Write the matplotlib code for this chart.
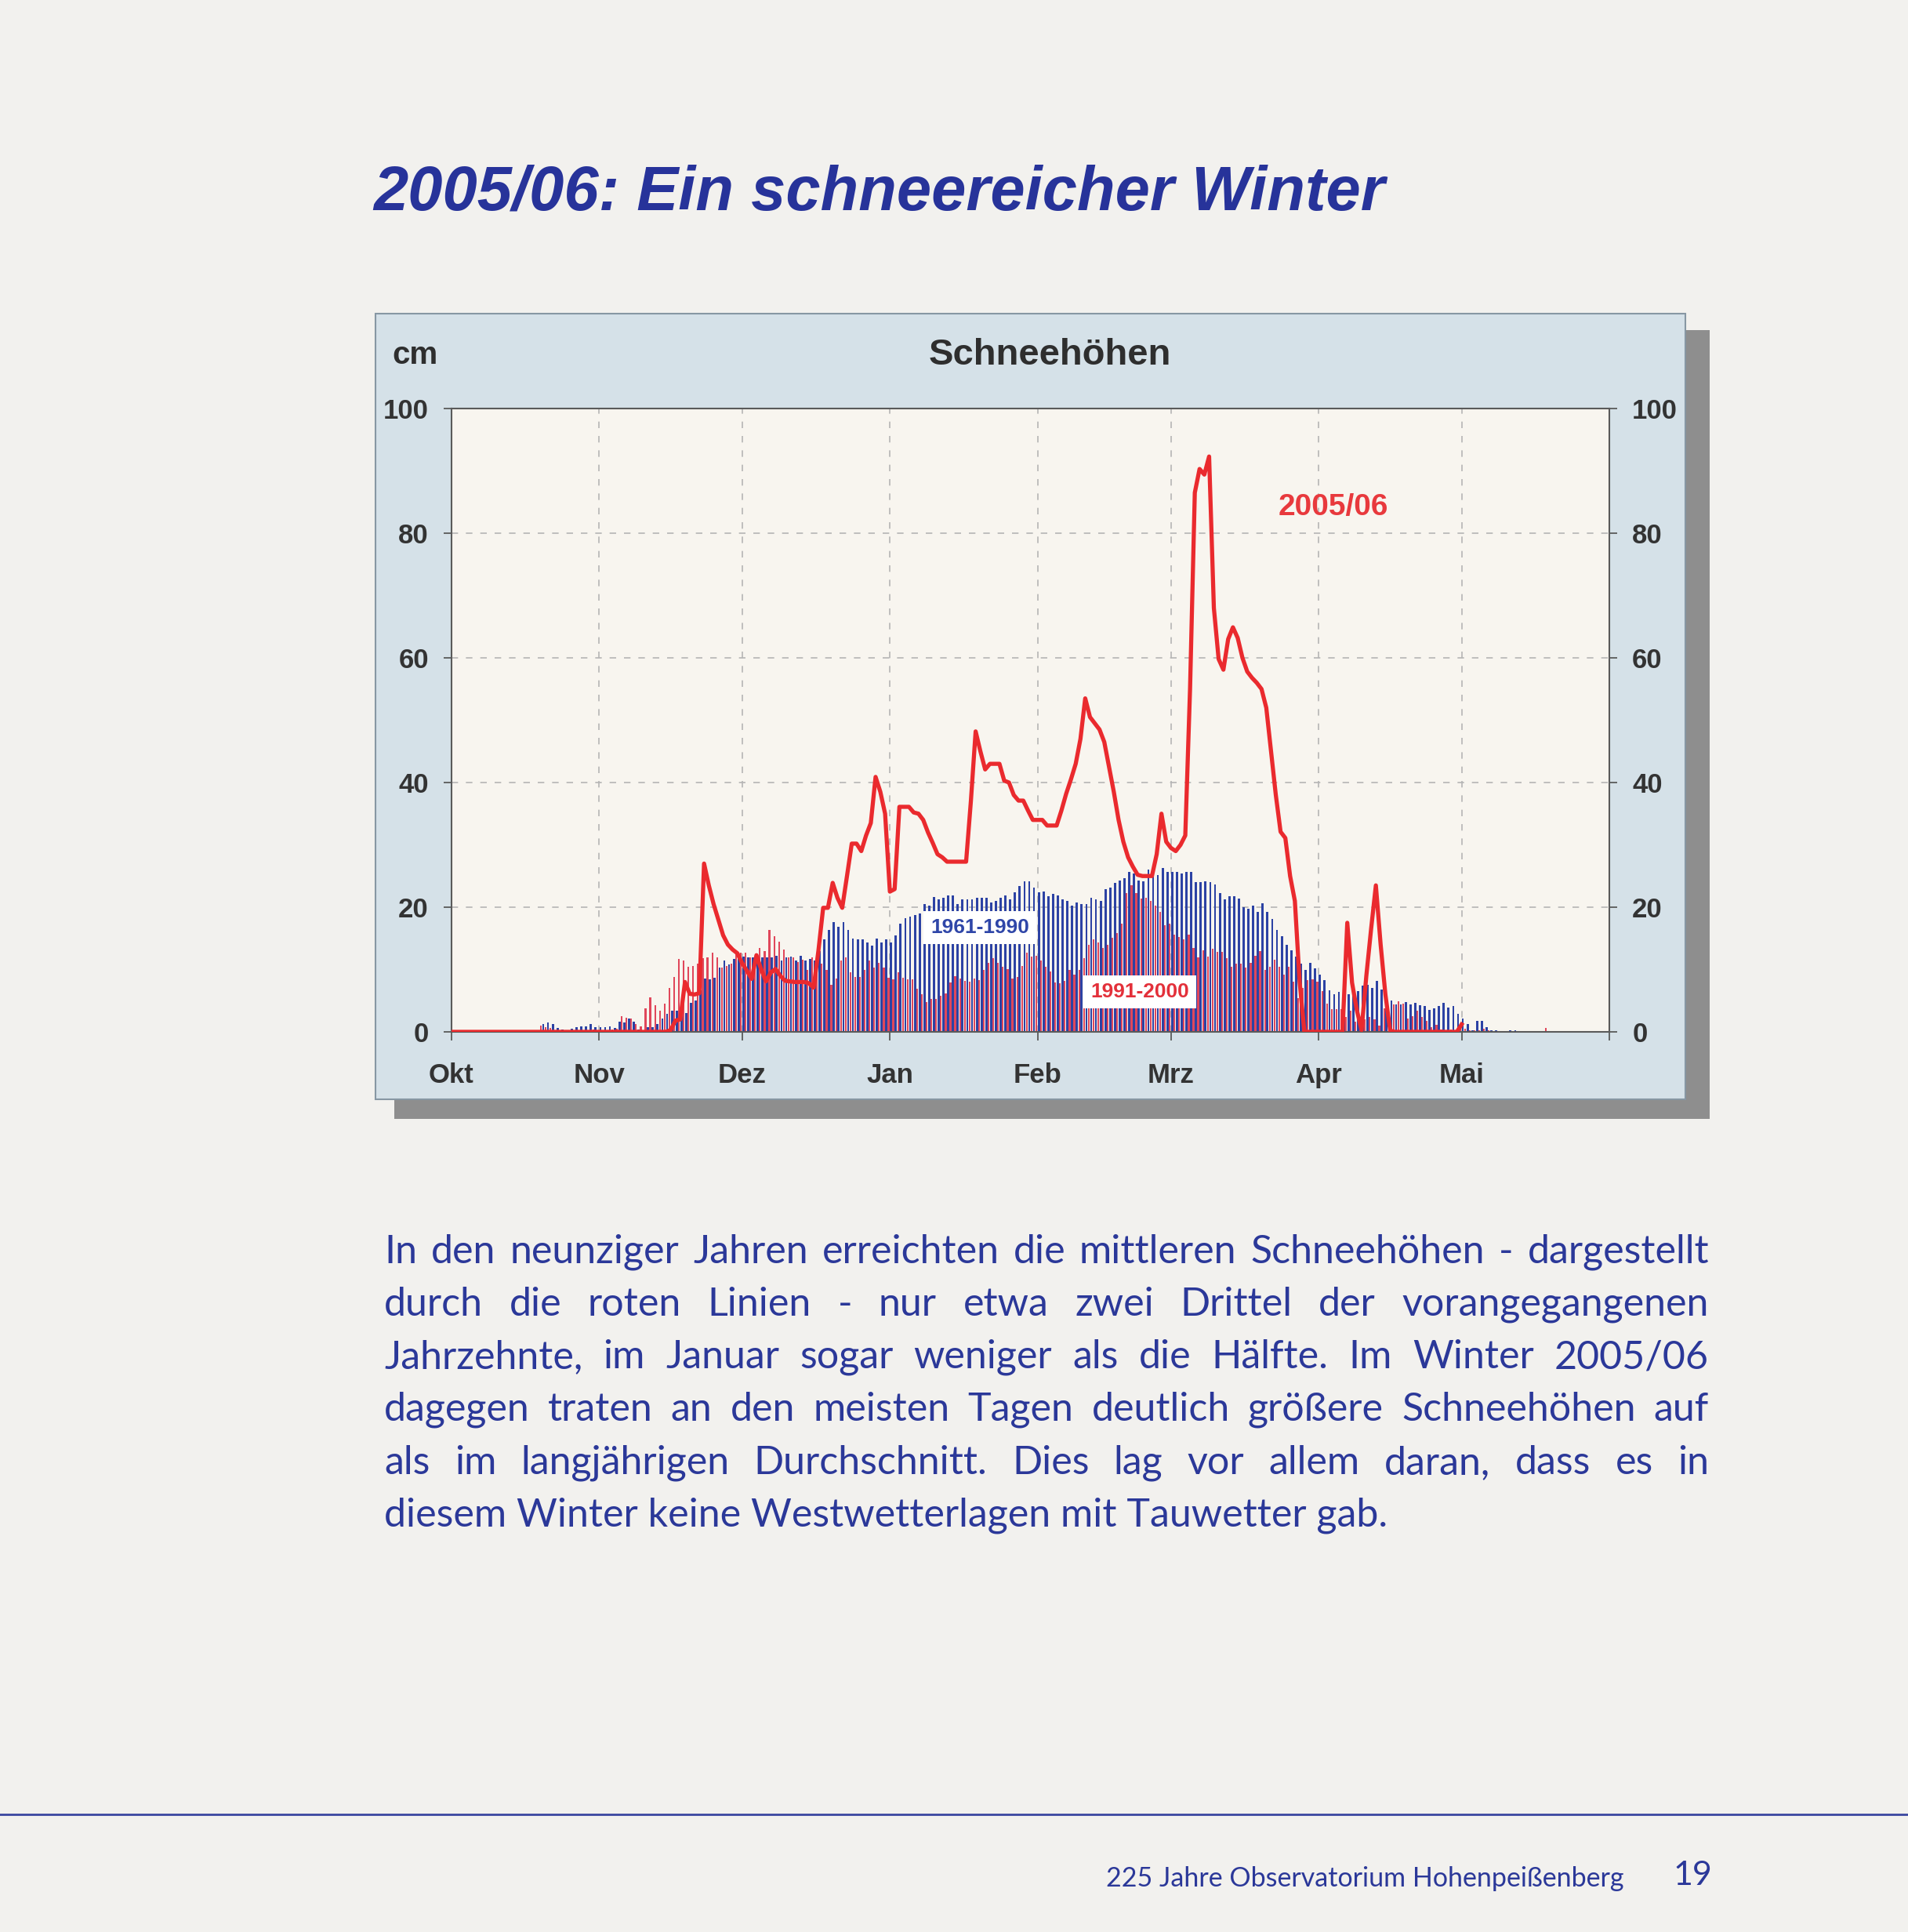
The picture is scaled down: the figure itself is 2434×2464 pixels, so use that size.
import numpy as np
import matplotlib
matplotlib.use('Agg')
import matplotlib.pyplot as plt
from matplotlib.patches import Rectangle
from matplotlib.lines import Line2D

# ---- data (daily snow depth in cm, day 0 = 1. Oktober) ----
blue_6190 = ([0.0] * 18 +
    [0.3, 1.3, 1.5, 1.2, 0.6, 0.4, 0.3, 0.5, 0.7] +
    [0.9, 0.9, 1.3, 0.8, 0.8, 0.7, 0.9, 0.6, 1.6, 1.5,
     2.1, 1.6, 0.4, 0.3, 0.8, 0.8, 1.2, 2.1, 2.9, 3.4,
     3.4, 3.4, 3.0, 4.6, 5.0, 6.7, 8.6, 8.4, 8.7, 10.3,
     11.5, 10.8, 11.7, 11.7, 12.1, 11.9, 12.0, 11.5, 12.0, 12.0,
     12.0, 12.2, 11.4, 12.0, 12.1, 11.5, 12.2, 11.5, 11.7, 11.4,
     13.0, 14.8, 16.4, 17.6, 16.9, 17.6, 16.4, 15.0, 14.8, 14.8,
     14.3, 13.8, 15.0, 14.3, 14.8, 14.3, 15.5, 17.4, 18.3, 18.5,
     18.7, 19.0, 20.5, 20.3, 21.6, 21.3, 21.5, 21.9, 21.9, 20.5,
     21.3, 21.3, 21.3, 21.5, 21.5, 21.5, 20.7, 21.0, 21.5, 21.9,
     21.3, 22.4, 23.4, 24.1, 24.1, 23.1, 22.4, 22.5, 21.7, 22.2,
     21.9, 21.3, 21.0, 20.3, 20.8, 20.5, 20.5, 21.5, 21.3, 21.0,
     22.9, 23.1, 23.9, 24.3, 24.7, 25.6, 25.4, 24.3, 24.2, 26.1,
     25.6, 25.2, 26.3, 25.6, 25.6, 25.6, 25.4, 25.7, 25.7, 24.0,
     24.0, 24.2, 24.0, 23.6, 22.3, 21.2, 21.8, 21.7, 21.4, 20.0,
     19.7, 20.2, 19.3, 20.6, 19.3, 18.1, 16.4, 15.4, 14.0, 13.1,
     12.1, 11.0, 10.0, 11.1, 10.2, 9.2, 8.3, 6.7, 6.0, 6.4,
     6.9, 6.0, 6.8, 6.6, 7.4, 7.6, 7.0, 8.2, 6.8, 5.7,
     5.0, 4.4, 4.4, 4.8, 4.4, 4.7, 4.3, 4.1, 3.5, 3.8,
     4.1, 4.7, 3.9, 4.1, 2.9, 2.2, 1.3, 0.3, 1.7, 1.7,
     0.8, 0.2, 0.2, 0.1, 0.1, 0.2, 0.2, 0.0, 0.0, 0.0] +
    [0.0] * 16)

red_9100 = ([0.0] * 18 +
    [1.0, 0.8, 0.6, 0.3, 0.3, 0.2, 0.2, 0.3, 0.2] +
    [0.3, 0.3, 0.4, 0.3, 0.3, 0.3, 0.4, 0.5, 2.5, 2.3,
     2.1, 1.2, 0.9, 3.8, 5.5, 4.3, 3.4, 4.5, 7.1, 8.8,
     11.7, 11.4, 10.5, 10.6, 11.0, 11.8, 12.0, 12.7, 12.0, 10.3,
     10.6, 10.9, 12.5, 12.7, 12.7, 12.0, 12.0, 13.4, 13.0, 16.3,
     15.3, 14.5, 13.2, 12.0, 12.0, 11.2, 11.6, 9.9, 12.0, 11.5,
     11.0, 9.9, 7.6, 8.6, 11.4, 11.9, 9.5, 8.8, 8.8, 10.0,
     11.4, 10.3, 11.1, 10.3, 8.7, 8.4, 9.6, 8.7, 8.4, 8.4,
     6.9, 6.1, 4.8, 5.3, 5.3, 5.8, 6.2, 7.9, 8.9, 8.5,
     8.2, 8.1, 8.5, 8.3, 10.0, 11.1, 11.8, 11.1, 10.4, 10.1,
     8.6, 8.8, 10.6, 12.7, 12.1, 12.2, 11.5, 10.4, 9.7, 7.9,
     7.8, 8.2, 9.9, 9.2, 9.9, 11.8, 13.9, 14.9, 14.3, 13.5,
     13.9, 15.1, 15.8, 17.4, 22.3, 23.5, 22.3, 21.4, 21.5, 21.0,
     20.3, 19.3, 17.1, 17.3, 15.6, 15.2, 14.9, 15.6, 13.5, 11.9,
     13.1, 12.1, 13.3, 12.8, 12.8, 11.8, 10.5, 10.9, 10.9, 10.3,
     11.1, 12.2, 12.9, 9.9, 10.4, 11.6, 10.4, 9.2, 10.4, 8.0,
     5.4, 7.0, 8.3, 8.4, 8.0, 6.6, 4.5, 3.6, 3.6, 3.6,
     2.4, 3.4, 1.6, 2.4, 2.0, 2.4, 2.0, 1.0, 3.8, 2.4,
     4.4, 4.9, 4.5, 2.2, 2.5, 3.4, 2.4, 1.8, 0.8, 1.1,
     0.4, 0.3, 0.4, 0.3, 0.5, 0.5, 0.2, 0.2, 0.2, 0.5,
     0.3, 0.0, 0.0, 0.0, 0.0, 0.0, 0.0, 0.0, 0.0, 0.0] +
    [0.0, 0.0, 0.6] + [0.0] * 13)

line_0506 = ([0.0] * 46 +
    [0.3, 1.8, 2.0, 8.0, 6.1, 6.0, 6.2, 27.0, 23.5, 20.5,
     18.0, 15.5, 14.0, 13.2, 12.6, 11.0, 9.8, 8.5, 12.3, 10.0,
     8.1, 9.5, 10.1, 9.0, 8.2, 8.1, 8.0, 8.0, 8.0, 7.8,
     7.1, 13.0, 19.9, 19.9, 23.9, 21.5, 19.9, 25.0, 30.2, 30.2,
     29.0, 31.5, 33.5, 40.9, 38.5, 35.0, 22.5, 22.9, 36.1, 36.1,
     36.1, 35.2, 35.0, 34.0, 32.0, 30.3, 28.5, 28.0, 27.3, 27.3,
     27.3, 27.3, 27.3, 37.0, 48.2, 45.0, 42.1, 43.0, 43.0, 43.0,
     40.3, 40.0, 38.0, 37.1, 37.1, 35.5, 34.0, 34.0, 34.0, 33.1,
     33.1, 33.1, 35.5, 38.2, 40.5, 43.0, 47.0, 53.5, 50.5, 49.5,
     48.5, 46.5, 42.5, 38.5, 34.0, 30.5, 28.0, 26.5, 25.2, 25.0,
     25.0, 25.0, 28.5, 35.0, 30.5, 29.5, 29.0, 30.0, 31.5, 55.0,
     86.5, 90.3, 89.4, 92.3, 68.0, 59.8, 58.1, 63.0, 64.9, 63.2,
     60.0, 57.8, 56.8, 56.0, 55.0, 52.0, 45.0, 38.0, 32.1, 31.1,
     25.0, 21.0, 8.0, 0.0, 0.0, 0.0, 0.0, 0.0, 0.0, 0.0,
     0.0, 0.0, 17.5, 7.9, 3.5, 0.3, 9.0, 16.5, 23.5, 14.0,
     6.0, 0.2, 0.0, 0.0, 0.0, 0.0, 0.0, 0.0, 0.0, 0.0,
     0.0, 0.0, 0.0, 0.0, 0.0, 0.0, 1.2])

month_starts = [0, 31, 61, 92, 123, 151, 182, 212, 243]
month_labels = ['Okt', 'Nov', 'Dez', 'Jan', 'Feb', 'Mrz', 'Apr', 'Mai', '']

page_title = '2005/06: Ein schneereicher Winter'
chart_title = 'Schneehöhen'
body_lines = [
    'In den neunziger Jahren erreichten die mittleren Schneehöhen - dargestellt',
    'durch die roten Linien - nur etwa zwei Drittel der vorangegangenen',
    'Jahrzehnte, im Januar sogar weniger als die Hälfte. Im Winter 2005/06',
    'dagegen traten an den meisten Tagen deutlich größere Schneehöhen auf',
    'als im langjährigen Durchschnitt. Dies lag vor allem daran, dass es in',
    'diesem Winter keine Westwetterlagen mit Tauwetter gab.',
]
footer = '225 Jahre Observatorium Hohenpeißenberg'
page_no = '19'

# ---- figure ----
W, H = 2434, 2464
DPI = 100
PAGE = '#f2f1ee'
BLUE_TXT = '#2b3899'
SANS = ['Liberation Sans', 'DejaVu Sans']


def fx(px):
    return px / W


def fy(py):
    return 1 - py / H


fig = plt.figure(figsize=(W / DPI, H / DPI), dpi=DPI)
fig.patch.set_facecolor(PAGE)
renderer = fig.canvas.get_renderer()


def fit_text(x, y, s, target_w, size0, **kw):
    t = fig.text(fx(x), fy(y), s, fontsize=size0, **kw)
    w = t.get_window_extent(renderer).width
    t.set_fontsize(size0 * target_w / w)
    return t


# panel with drop shadow
shadow = Rectangle((fx(503), fy(1427)), (2181 - 503) / W, (1427 - 421) / H,
                   transform=fig.transFigure, facecolor='#8e8e8e', edgecolor='none', zorder=0.2)
panel = Rectangle((fx(479), fy(1402)), (2150 - 479) / W, (1402 - 400) / H,
                  transform=fig.transFigure, facecolor='#d5e1e8', edgecolor='#8797a3', lw=1.5, zorder=0.3)
fig.add_artist(shadow)
fig.add_artist(panel)

ax = fig.add_axes([fx(576), fy(1316), (2053 - 576) / W, (1316 - 521) / H])
ax.set_zorder(2)
ax.set_facecolor('#f8f5ef')

days = np.arange(len(blue_6190))
ax.bar(days + 0.25, blue_6190, width=0.46, color='#2c42a4', linewidth=0,
       antialiased=False, zorder=2)
ax.bar(days + 0.72, red_9100, width=0.36, color='#e0475b', linewidth=0,
       antialiased=False, zorder=2)
ax.plot(np.arange(len(line_0506)), line_0506, color='#ea2a2e', lw=3.8,
        solid_joinstyle='round', zorder=5)

for m in month_starts[1:-1]:
    ax.axvline(m, color='#b5b5b5', lw=1.2, ls=(0, (5, 6)), zorder=1)
for v in [20, 40, 60, 80]:
    ax.axhline(v, color='#b5b5b5', lw=1.2, ls=(0, (5, 6)), zorder=1)

ax.set_xlim(0, 243)
ax.set_ylim(0, 100)
ax.set_xticks(month_starts)
ax.set_xticklabels(month_labels)
ax.set_yticks([0, 20, 40, 60, 80, 100])
for sp in ax.spines.values():
    sp.set_color('#5a5a5a')
    sp.set_linewidth(1.5)

ax.tick_params(axis='x', direction='out', length=8, width=1.3, color='#5a5a5a',
               pad=20, labelsize=25, labelcolor='#333333')
ax.tick_params(axis='y', direction='out', length=7, width=1.3, color='#5a5a5a',
               right=True, labelright=True, labelsize=25, labelcolor='#333333', pad=14)
for lab in ax.get_xticklabels() + ax.get_yticklabels():
    lab.set_family(SANS)
    lab.set_fontweight('bold')

ax.text(110.9, 16.7, '1961-1990', ha='center', va='center', fontsize=19, fontweight='bold',
        color='#2f46a8', family=SANS, zorder=4,
        bbox=dict(boxstyle='square,pad=0.35', facecolor='white', edgecolor='none'))
ax.text(144.5, 6.4, '1991-2000', ha='center', va='center', fontsize=19, fontweight='bold',
        color='#e3303a', family=SANS, zorder=4,
        bbox=dict(boxstyle='square,pad=0.35', facecolor='white', edgecolor='none'))
ax.text(185.0, 84.2, '2005/06', ha='center', va='center', fontsize=28, fontweight='bold',
        color='#e8393d', family=SANS, zorder=4)

fig.text(fx(530), fy(453), 'cm', ha='center', va='center', fontsize=29, fontweight='bold',
         color='#2e2e2e', family=SANS, zorder=3)
fit_text(1185, 453, chart_title, 310, 32, ha='left', va='center', fontweight='bold',
         color='#2e2e2e', family=SANS, zorder=3)

# page title
fit_text(476, 247, page_title, 1290, 57, ha='left', va='center', fontweight='bold',
         style='italic', color='#27339a', family=SANS)

# body text, justified
BODY_FONT = ['Lato', 'DejaVu Sans']
probe = fig.text(0, 0, body_lines[-1], fontsize=33, family=BODY_FONT)
body_size = 33 * 1282 / probe.get_window_extent(renderer).width
probe.remove()

x0, x1 = 490, 2180
line_y = [1597, 1664, 1731, 1798, 1866, 1933]
for i, (s, yy) in enumerate(zip(body_lines, line_y)):
    if i == len(body_lines) - 1:
        fig.text(fx(x0), fy(yy), s, fontsize=body_size, family=BODY_FONT,
                 color=BLUE_TXT, ha='left', va='center')
        continue
    words = s.split(' ')
    texts = [fig.text(0, fy(yy), w, fontsize=body_size, family=BODY_FONT,
                      color=BLUE_TXT, ha='left', va='center') for w in words]
    widths = [t.get_window_extent(renderer).width for t in texts]
    gap = (x1 - x0 - sum(widths)) / (len(words) - 1)
    x = x0
    for t, w in zip(texts, widths):
        t.set_x(fx(x))
        x += w + gap

# footer
fig.add_artist(Line2D([0, 1], [fy(2314), fy(2314)], transform=fig.transFigure,
                      color='#3a47a0', lw=2))
fit_text(1411, 2396, footer, 660, 22, ha='left', va='center', color=BLUE_TXT, family=BODY_FONT)
fig.text(fx(2159), fy(2392), page_no, ha='center', va='center', fontsize=31,
         color=BLUE_TXT, family=BODY_FONT)

fig.savefig('out.png', dpi=DPI, facecolor=PAGE)
